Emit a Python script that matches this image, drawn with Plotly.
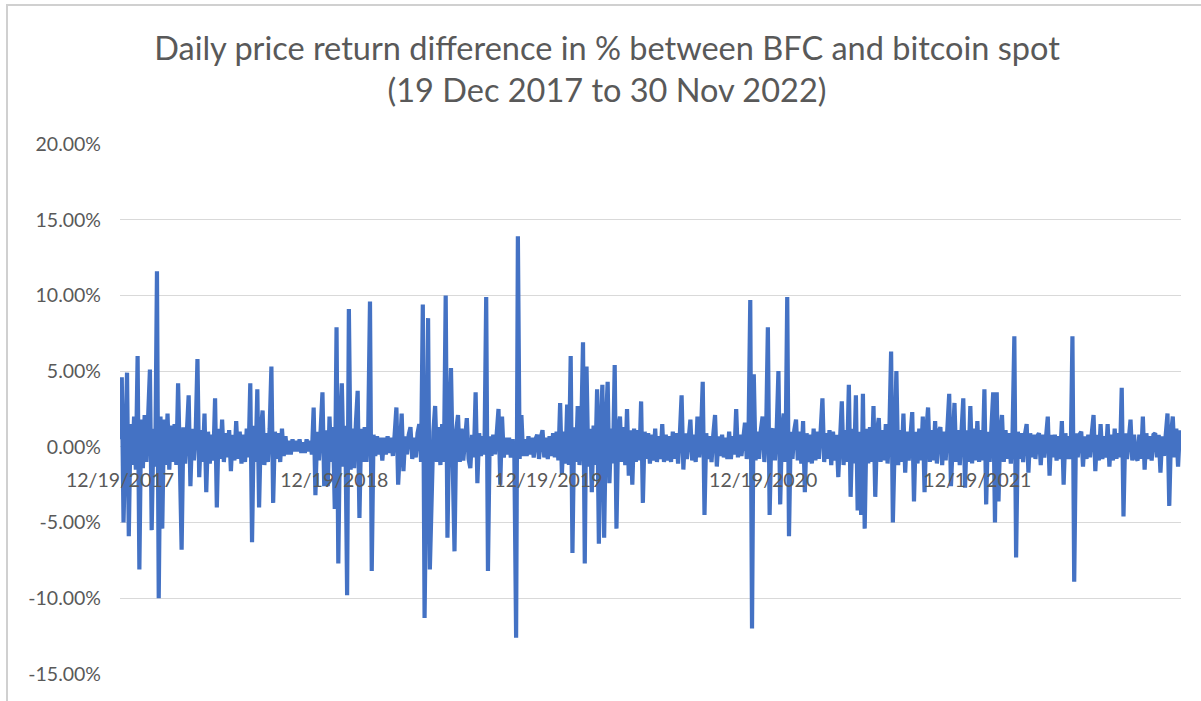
import pandas as pd
import plotly.graph_objects as go

# Daily price return difference (in %) between BFC and bitcoin spot,
# sampled every 3 days, values read from the reference picture
start_date = "2017-12-19"
step = "3D"
diff_pct = [
    # Dec 2017 - Dec 2018
    0.5, 4.6, -5.0, 1.2, 4.9, -5.9, 1.5, -1.2, 2.0, -1.5,
    6.0, -8.1, 1.8, -1.4, 2.1, -1.0, 1.6, 5.1, -5.5, 1.2,
    -1.3, 11.6, -10.0, 2.0, -5.4, 1.8, -1.2, 2.2, -1.5, 1.4,
    -1.0, 1.5, -1.2, 4.2, -1.0, -6.8, 1.3, -1.1, 1.0, 3.4,
    -2.6, 1.2, -0.9, 1.0, 5.8, -2.0, 1.1, -1.0, 2.2, -3.0,
    1.0, -1.1, 0.8, -0.9, 3.2, -4.0, 1.2, -0.8, 1.8, -1.0,
    0.9, -0.7, 1.1, -1.6, 0.8, -0.9, 1.7, -0.8, 1.0, -1.1,
    0.8, -1.0, 1.2, -0.7, 4.2, -6.3, 1.4, -1.0, 3.8, -4.0,
    1.1, 2.4, -1.2, 0.9, -1.0, 1.2, 5.3, -3.7, 1.0, -0.8,
    0.9, -1.0, 1.2, -0.6, 0.7, -0.5, 0.4, -0.5, 0.5, -0.3,
    0.4, -0.3, 0.5, -0.4, 0.3, -0.4, 0.5, -0.3, 0.4, -0.5,
    2.6, -3.2, 1.0, -0.9, 1.2, 3.6, -2.6, 1.1, -2.6, 2.0,
    -1.0, 1.3, -4.1, 7.9, -7.7, 1.5, 4.2, -1.3, 1.4, -9.8,
    9.1, -1.5, 1.2, -1.4, 1.6, 3.7, -4.7, 1.2, -1.0, 1.3,
    -1.0, 1.2, 9.6, -8.2, 0.8, -0.6, 0.7, -0.5, 0.6, -0.9,
    # Dec 2018 - Dec 2019
    0.6, -0.5, 0.7, -0.4, 0.6, -0.6, 0.8, 2.6, -2.5, 0.7,
    2.2, -1.6, 0.7, -0.5, 0.8, 1.3, -0.8, 0.6, -0.7, 0.9,
    1.5, -1.0, 9.4, -11.3, 1.2, 8.5, -8.1, -3.0, 1.0, 2.7,
    -1.0, 1.3, -1.2, 1.5, -1.0, 10.0, -6.0, 1.4, 5.2, -1.2,
    -6.9, 1.1, 2.1, -1.0, 1.2, -0.9, 1.0, 1.9, -0.8, -1.4,
    0.8, -0.7, 3.6, -2.4, 0.9, -0.6, 0.7, -0.5, 9.9, -8.2,
    0.7, -0.6, 0.8, -0.5, 0.9, 2.5, -2.5, 2.0, -0.7, 0.6,
    -0.5, 0.6, -0.7, 0.5, -0.6, -12.6, 13.9, -0.8, 2.1, -0.6,
    # Dec 2019 - Dec 2020
    0.5, -0.6, 0.7, -0.5, 0.6, -0.7, 0.5, 0.8, -0.8, 0.6,
    1.1, -0.7, 0.6, -0.8, 0.7, -0.6, 0.9, -0.7, 1.0, -0.9,
    2.9, -1.8, 1.0, -1.1, 2.8, -1.2, 6.0, -7.0, 1.3, -1.0,
    2.7, -1.2, 1.1, 6.9, -7.7, 5.3, -1.3, 1.2, -3.0, 1.4,
    -1.2, 3.8, -6.4, 1.3, 4.1, -6.0, 1.5, 4.3, -2.4, 1.2,
    -1.1, 5.4, -5.4, 1.2, 2.0, -1.0, 1.3, -1.2, 2.5, -1.9,
    1.1, -2.5, 1.2, -1.0, 1.1, -0.9, 3.0, -3.7, 1.0, -0.8,
    0.9, -1.1, 0.8, -0.9, 1.2, -1.0, 0.7, -0.8, 1.5, -1.0,
    0.8, -0.9, 0.7, -1.0, 1.0, -0.8, 0.9, -1.1, 0.8, 3.4,
    -1.5, 0.9, -0.8, 1.0, 1.8, -0.9, 0.8, -1.0, 2.0, -0.7,
    0.8, 4.3, -4.5, 0.9, -0.8, 0.7, -1.0, 0.8, 2.1, -1.3,
    0.7, -0.6, 0.8, -0.7, 0.6, -0.8, 1.0, -0.8, 0.7, -0.5,
    2.5, -0.7, 0.8, -0.6, 0.9, 1.6, -0.8, 0.7, 9.7, -12.0,
    # Dec 2020 - Dec 2021
    4.8, -0.9, 1.0, -0.8, 1.1, 2.0, -1.0, 0.9, 7.9, -4.5,
    1.0, 1.2, -0.9, 1.1, 5.0, -3.8, 1.0, 2.2, -1.0, 9.9,
    -5.9, 1.0, -0.8, 1.1, 1.8, -0.9, 1.0, -1.1, 1.7, -3.0,
    0.9, -1.0, 0.8, -1.1, 1.2, -0.9, 1.0, -0.8, 1.1, 3.2,
    -1.0, 0.9, -0.8, 1.1, -1.2, 1.0, -0.9, 0.8, -2.0, 1.0,
    3.0, -1.2, 1.1, -1.0, 4.1, -3.3, 1.2, -1.1, 3.4, -4.2,
    1.0, -4.5, 3.5, -5.4, 1.2, -1.1, 1.3, -1.0, 2.7, -3.3,
    1.0, 1.9, -1.0, 1.1, -0.9, 1.5, -1.1, 1.0, 6.3, -5.0,
    1.2, 5.0, -1.2, 1.1, -1.0, 2.2, -1.7, 1.0, -0.9, 1.1,
    2.3, -3.6, 1.0, -1.1, 1.2, -0.9, 2.0, -3.0, 1.0, 2.6,
    -1.0, 1.1, -0.9, 1.7, -1.1, 1.0, 1.3, -1.2, 1.0, -0.9,
    1.0, 3.5, -2.6, 1.2, 2.9, -1.0, 1.1, -1.2, 1.0, 3.2,
    -2.7, 1.1, -1.0, 2.7, -1.1, 1.2, -0.9, 1.7, -1.0, 1.1,
    # Dec 2021 - Nov 2022
    -0.9, 3.8, -3.8, 1.0, -1.0, 1.1, 3.6, -5.0, 3.6, -3.6,
    1.0, 2.1, -1.0, 1.1, -0.8, 0.9, -1.1, 1.0, 7.3, -7.3,
    1.0, -0.8, 0.9, -1.0, 0.8, 1.5, -1.7, 0.9, -0.7, 0.8,
    -0.8, 0.7, 0.9, -1.2, 0.8, -0.7, 0.9, 2.0, -1.9, 0.8,
    -0.7, 0.8, -0.9, 0.7, -0.8, 1.7, -2.5, 0.9, -0.8, 0.7,
    -0.8, 7.3, -8.9, 0.9, -0.7, 0.8, 1.0, -1.3, 0.7, -0.8,
    0.8, -0.7, 0.9, 2.1, -1.6, 0.8, -0.9, 1.5, -0.8, 0.7,
    -0.7, 1.5, -1.3, 0.8, -0.9, 1.2, -0.8, 0.9, -0.7, 3.9,
    -4.6, 0.9, -0.8, 1.0, 1.8, -0.9, 0.8, -0.7, -0.9, 0.8,
    -0.8, 2.0, -1.5, 0.9, -0.8, 0.7, -0.9, 0.8, 0.9, -0.7,
    0.8, -1.7, 0.7, -0.6, 0.9, 2.2, -3.9, 0.8, 2.0, -0.7,
    1.2, -1.3, 1.1,
]

x_tick_dates = ["2017-12-19", "2018-12-19", "2019-12-19", "2020-12-19", "2021-12-19"]
y_ticks_pct = [-15, -10, -5, 0, 5, 10, 15, 20]
y_tick_text = [f"{v:.2f}%" for v in y_ticks_pct]

dates = pd.date_range(start_date, periods=len(diff_pct), freq=step)
y_vals = [v / 100 for v in diff_pct]

FONT = "Lato, 'Open Sans', sans-serif"
GREY = "#595959"

fig = go.Figure()
fig.add_trace(go.Scatter(
    x=dates, y=y_vals, mode="lines",
    line=dict(color="#4472C4", width=4.2),
    showlegend=False, hoverinfo="skip",
))

W, H = 1201, 701
L, R, T, B = 120, 20, 144, 27
plot_w = W - L - R
plot_h = H - T - B

fig.update_layout(
    width=W, height=H,
    margin=dict(l=L, r=R, t=T, b=B),
    paper_bgcolor="white", plot_bgcolor="white",
    font=dict(family=FONT, color=GREY, size=19.5),
    title=dict(
        text="Daily price return difference in % between BFC and bitcoin spot<br>(19 Dec 2017 to 30 Nov 2022)",
        x=607 / W, xanchor="center", xref="container",
        y=1 - 60 / H, yanchor="top", yref="container",
        font=dict(family=FONT, size=32.5, color=GREY),
    ),
    xaxis=dict(
        type="date",
        range=["2017-12-19", "2022-12-01"],
        tickvals=x_tick_dates,
        tickformat="%m/%d/%Y",
        showgrid=False,
        zeroline=False,
        showline=False,
        ticks="",
        anchor="free",
        position=(0 - y_ticks_pct[0]) / (y_ticks_pct[-1] - y_ticks_pct[0]),
        ticklabelstandoff=20,
        tickfont=dict(family=FONT, size=19.5, color=GREY),
    ),
    yaxis=dict(
        range=[y_ticks_pct[0] / 100, y_ticks_pct[-1] / 100],
        tickvals=[v / 100 for v in y_ticks_pct],
        ticktext=y_tick_text,
        showgrid=True, gridcolor="#d9d9d9", gridwidth=1,
        zeroline=False, showline=False, ticks="",
        ticklabelstandoff=18,
        tickfont=dict(family=FONT, size=19.5, color=GREY),
    ),
    shapes=[dict(
        type="rect", xref="paper", yref="paper",
        x0=(7 - L) / plot_w, x1=(W + 10 - L) / plot_w,
        y0=-(B + 10) / plot_h, y1=(H - B - 5) / plot_h,
        line=dict(color="#d0d0d0", width=2), fillcolor="rgba(0,0,0,0)",
        layer="below",
    )],
)

fig.write_html(
    "out.html",
    config={"displayModeBar": False},
    post_script="document.body.style.margin='0';document.body.style.padding='0';document.body.style.overflow='hidden';",
)
